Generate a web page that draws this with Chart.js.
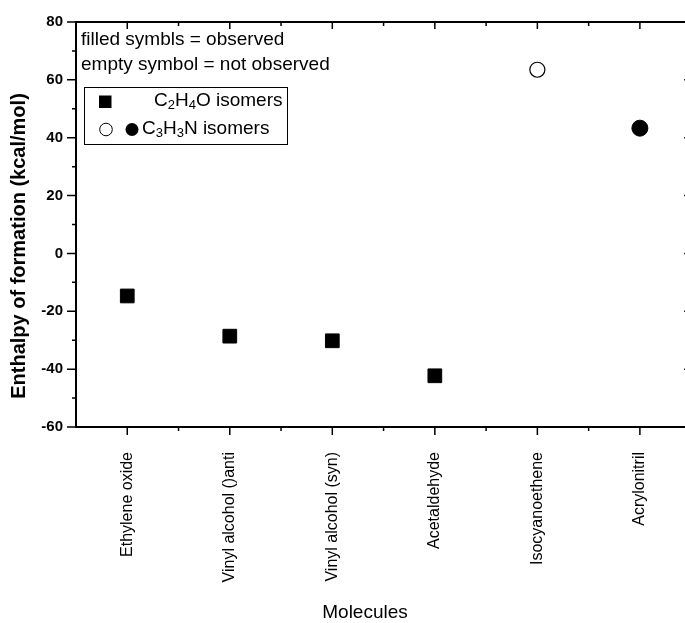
<!DOCTYPE html>
<html>
<head>
<meta charset="utf-8">
<script src="https://cdn.jsdelivr.net/npm/chart.js@4/dist/chart.umd.min.js"></script>
<style>
  html, body { margin: 0; padding: 0; background: #fff; overflow: hidden; }
  #wrap { width: 685px; height: 623px; }
</style>
</head>
<body>
<div id="wrap"><canvas id="enthalpyChart" width="685" height="623"></canvas></div>
<script>
// data
var categories = ["Ethylene oxide", "Vinyl alcohol ()anti", "Vinyl alcohol (syn)", "Acetaldehyde", "Isocyanoethene", "Acrylonitril"];
var enthalpy = [-14.7, -28.6, -30.2, -42.3, 63.5, 43.3];
var isomerGroup = ["C2H4O", "C2H4O", "C2H4O", "C2H4O", "C3H3N", "C3H3N"];
var observed = [true, true, true, true, false, true];
var yTicks = [-60, -40, -20, 0, 20, 40, 60, 80];

function points(filter) {
    var out = [];
    for (var i = 0; i < categories.length; i++) {
        if (filter(i)) out.push({ x: i + 1, y: enthalpy[i] });
    }
    return out;
}

var FONT = "'Liberation Sans', Arial, Helvetica, sans-serif";

// axis frame with major/minor ticks (left, top, bottom; right axis sits just off the canvas)
var framePlugin = {
    id: "frame",
    afterDraw: function (chart) {
        var ctx = chart.ctx;
        var a = chart.chartArea;
        var xs = chart.scales.x, ys = chart.scales.y;
        var xRight = xs.getPixelForValue(categories.length + 0.5);
        ctx.save();
        ctx.strokeStyle = "#000";
        ctx.lineWidth = 2;
        ctx.beginPath();
        ctx.moveTo(a.left, a.top); ctx.lineTo(a.right, a.top);
        ctx.moveTo(a.left, a.top - 1); ctx.lineTo(a.left, a.bottom + 1);
        ctx.moveTo(a.left, a.bottom); ctx.lineTo(a.right, a.bottom);
        ctx.moveTo(xRight, a.top); ctx.lineTo(xRight, a.bottom);
        ctx.stroke();
        ctx.lineWidth = 1.5;
        ctx.beginPath();
        for (var i = 0; i < categories.length; i++) {
            var px = xs.getPixelForValue(i + 1);
            ctx.moveTo(px, a.bottom); ctx.lineTo(px, a.bottom + 8);
            ctx.moveTo(px, a.top); ctx.lineTo(px, a.top + 7);
            var mx = xs.getPixelForValue(i + 1.5);
            if (mx < a.right) {
                ctx.moveTo(mx, a.bottom); ctx.lineTo(mx, a.bottom + 4);
                ctx.moveTo(mx, a.top); ctx.lineTo(mx, a.top + 4);
            }
        }
        for (var v = -60; v <= 80; v += 10) {
            var py = ys.getPixelForValue(v);
            var major = v % 20 === 0;
            ctx.moveTo(a.left, py); ctx.lineTo(a.left - (major ? 9 : 4), py);
            ctx.moveTo(xRight, py); ctx.lineTo(xRight - (major ? 7 : 4), py);
        }
        ctx.stroke();
        ctx.restore();
    }
};

// axis titles and the legend box, placed as in the figure
function drawFormula(ctx, parts, x, y, size) {
    // parts: [text, isSubscript]
    parts.forEach(function (p) {
        ctx.font = (p[1] ? Math.round(size * 0.7) : size) + "px " + FONT;
        ctx.fillText(p[0], x, y + (p[1] ? size * 0.25 : 0));
        x += ctx.measureText(p[0]).width;
    });
}

var notesPlugin = {
    id: "notes",
    afterDraw: function (chart) {
        var ctx = chart.ctx;
        ctx.save();
        ctx.fillStyle = "#000";
        ctx.textBaseline = "middle";

        ctx.font = "19px " + FONT;
        ctx.textAlign = "left";
        ctx.fillText("filled symbls = observed", 81, 40);
        ctx.fillText("empty symbol = not observed", 81, 65);

        ctx.strokeStyle = "#000";
        ctx.lineWidth = 1;
        ctx.strokeRect(84.5, 87.5, 203, 57);

        ctx.fillRect(99, 95.5, 12.5, 12.5);
        drawFormula(ctx, [["C", 0], ["2", 1], ["H", 0], ["4", 1], ["O isomers", 0]], 154, 101, 19);

        ctx.beginPath();
        ctx.arc(106, 129.5, 6.3, 0, Math.PI * 2);
        ctx.fillStyle = "#fff";
        ctx.fill();
        ctx.stroke();
        ctx.fillStyle = "#000";
        ctx.beginPath();
        ctx.arc(132, 129.5, 6.5, 0, Math.PI * 2);
        ctx.fill();
        drawFormula(ctx, [["C", 0], ["3", 1], ["H", 0], ["3", 1], ["N isomers", 0]], 142, 129, 19);

        ctx.textAlign = "center";
        ctx.font = "19px " + FONT;
        ctx.fillText("Molecules", 365, 613);

        ctx.translate(19, 246);
        ctx.rotate(-Math.PI / 2);
        ctx.font = "bold 20px " + FONT;
        ctx.fillText("Enthalpy of formation (kcal/mol)", 0, 0);
        ctx.restore();
    }
};

var config = {
    type: "scatter",
    data: {
        datasets: [
            {
                label: "C2H4O isomers",
                data: points(function (i) { return isomerGroup[i] === "C2H4O"; }),
                pointStyle: "rect",
                pointRadius: 9.7,
                backgroundColor: "#000",
                borderColor: "#000",
                borderWidth: 1,
            },
            {
                label: "C3H3N isomers (not observed)",
                data: points(function (i) { return isomerGroup[i] === "C3H3N" && !observed[i]; }),
                pointStyle: "circle",
                pointRadius: 7.5,
                backgroundColor: "#fff",
                borderColor: "#000",
                borderWidth: 1.2,
            },
            {
                label: "C3H3N isomers (observed)",
                data: points(function (i) { return isomerGroup[i] === "C3H3N" && observed[i]; }),
                pointStyle: "circle",
                pointRadius: 8,
                backgroundColor: "#000",
                borderColor: "#000",
                borderWidth: 1,
            },
        ],
    },
    options: {
        responsive: false,
        animation: false,
        devicePixelRatio: 1,
        // no automatic room for point overflow: plot box runs to the canvas edge
        layout: { autoPadding: false, padding: { top: 22, right: 0, bottom: 0, left: 0 } },
        plugins: {
            legend: { display: false },
            tooltip: { enabled: false },
        },
        scales: {
            x: {
                type: "linear",
                min: 0.5,
                max: 6.44,
                grid: { display: false, drawTicks: false },
                border: { display: false },
                afterBuildTicks: function (scale) {
                    scale.ticks = categories.map(function (c, i) { return { value: i + 1 }; });
                },
                afterFit: function (scale) {
                    scale.height = 196;
                    scale.paddingLeft = 0;
                    scale.paddingRight = 0;
                },
                ticks: {
                    autoSkip: false,
                    minRotation: 90,
                    maxRotation: 90,
                    padding: 25,
                    color: "#000",
                    font: { family: FONT, size: 16 },
                    callback: function (value) { return categories[Math.round(value) - 1] || ""; },
                },
            },
            y: {
                min: -60,
                max: 80,
                grid: { display: false, drawTicks: false },
                border: { display: false },
                afterBuildTicks: function (scale) {
                    scale.ticks = yTicks.map(function (v) { return { value: v }; });
                },
                afterFit: function (scale) {
                    scale.width = 76;
                    scale.paddingTop = 0;
                    scale.paddingBottom = 0;
                },
                ticks: {
                    padding: 13,
                    color: "#000",
                    font: { family: FONT, size: 15, weight: "bold" },
                },
            },
        },
    },
    plugins: [framePlugin, notesPlugin],
};

var enthalpyChart = new Chart(document.getElementById("enthalpyChart"), config);
</script>
</body>
</html>
